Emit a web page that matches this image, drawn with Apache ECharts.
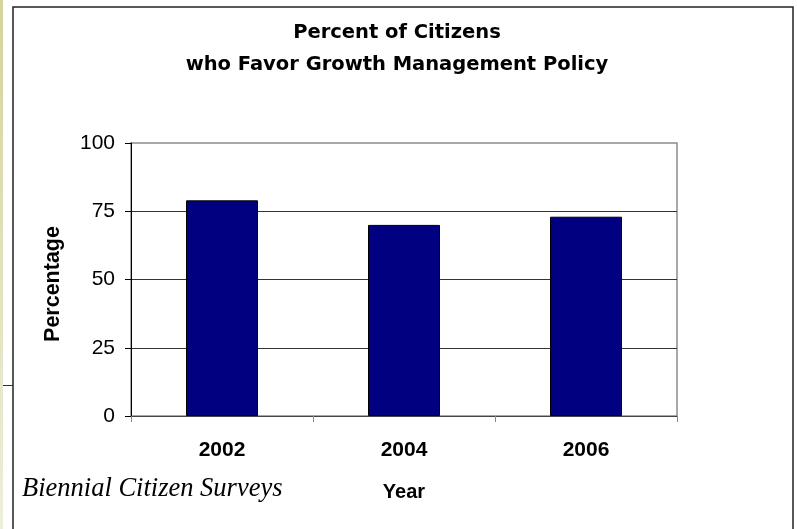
<!DOCTYPE html>
<html>
<head>
<meta charset="utf-8">
<script src="https://cdn.jsdelivr.net/npm/echarts@6/dist/echarts.min.js"></script>
<style>
  html, body { margin: 0; padding: 0; background: #fff; }
  #chart { width: 797px; height: 529px; }
</style>
</head>
<body>
<div id="chart"></div>
<script>
// Survey years and share of citizens favouring the policy (%)
const years = ['2002', '2004', '2006'];
const favorPct = [79, 70, 73];
const yTicks = { min: 0, max: 100, step: 25 };

const titleLines = ['Percent of Citizens', 'who Favor Growth Management Policy'];
const sourceNote = 'Biennial Citizen Surveys';

const chart = echarts.init(document.getElementById('chart'), null, { renderer: 'canvas' });

chart.setOption({
  backgroundColor: '#ffffff',
  animation: false,
  title: {
    text: titleLines.join('\n'),
    left: 392,
    top: 12,
    textAlign: 'center',
    textStyle: {
      fontFamily: 'DejaVu Sans',
      fontWeight: 'bold',
      fontSize: 19.5,
      lineHeight: 32,
      color: '#000'
    }
  },
  grid: {
    left: 131,
    top: 143,
    right: 120,
    bottom: 113,
    show: true,
    borderColor: '#8c8c8c',
    borderWidth: 1.5,
    backgroundColor: 'transparent'
  },
  xAxis: {
    type: 'category',
    data: years,
    name: 'Year',
    nameLocation: 'middle',
    nameGap: 66,
    nameTextStyle: {
      fontFamily: 'Liberation Sans',
      fontWeight: 'bold',
      fontSize: 20,
      color: '#000'
    },
    axisLine: { show: true, lineStyle: { color: '#444', width: 1 } },
    axisTick: { show: true, alignWithLabel: false, length: 6, lineStyle: { color: '#888' } },
    axisLabel: {
      margin: 24,
      fontFamily: 'Liberation Sans',
      fontWeight: 'bold',
      fontSize: 21,
      color: '#000'
    },
    splitLine: { show: false }
  },
  yAxis: {
    type: 'value',
    min: yTicks.min,
    max: yTicks.max,
    interval: yTicks.step,
    name: 'Percentage',
    nameLocation: 'middle',
    nameGap: 67,
    nameRotate: 90,
    nameTextStyle: {
      fontFamily: 'Liberation Sans',
      fontWeight: 'bold',
      fontSize: 21.5,
      color: '#000',
      padding: [0, 9, 0, 0]
    },
    axisLine: { show: true, lineStyle: { color: '#000', width: 1 } },
    axisTick: { show: true, inside: false, length: 6, lineStyle: { color: '#000' } },
    axisLabel: {
      margin: 16,
      fontFamily: 'Liberation Sans',
      fontSize: 21,
      color: '#000'
    },
    splitLine: {
      show: true,
      showMinLine: false,
      showMaxLine: false,
      lineStyle: { color: '#333', width: 1 }
    }
  },
  series: [{
    type: 'bar',
    data: favorPct,
    barWidth: 72,
    itemStyle: { color: '#000080', borderColor: '#000', borderWidth: 1 }
  }],
  graphic: [
    {
      type: 'rect',
      left: 0,
      top: 0,
      shape: { width: 3, height: 529 },
      style: {
        fill: {
          type: 'linear', x: 0, y: 0, x2: 0, y2: 1,
          colorStops: [
            { offset: 0, color: '#d4d49c' },
            { offset: 1, color: '#eeeedc' }
          ]
        }
      },
      silent: true
    },
    {
      type: 'line',
      shape: { x1: 3, y1: 385.5, x2: 13, y2: 385.5 },
      style: { stroke: '#333', lineWidth: 1 },
      silent: true
    },
    {
      type: 'rect',
      shape: { x: 13, y: 7, width: 780, height: 540 },
      style: { fill: null, stroke: '#222', lineWidth: 1.5 },
      silent: true
    },
    {
      type: 'text',
      x: 22,
      y: 489,
      style: {
        text: sourceNote,
        font: 'italic 26.5px "Liberation Serif", "Times New Roman", serif',
        fill: '#000',
        verticalAlign: 'middle',
        align: 'left'
      },
      silent: true
    }
  ]
});
</script>
</body>
</html>
